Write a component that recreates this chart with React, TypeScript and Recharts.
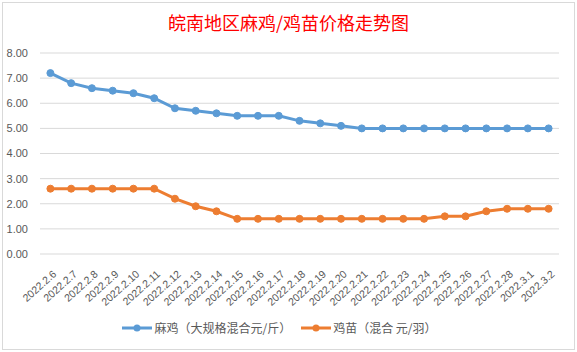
import React from "react";
import { LineChart, Line, XAxis, YAxis, CartesianGrid, Legend } from "recharts";

const categories = [
  "2022.2.6", "2022.2.7", "2022.2.8", "2022.2.9", "2022.2.10", "2022.2.11", "2022.2.12",
  "2022.2.13", "2022.2.14", "2022.2.15", "2022.2.16", "2022.2.17", "2022.2.18", "2022.2.19",
  "2022.2.20", "2022.2.21", "2022.2.22", "2022.2.23", "2022.2.24", "2022.2.25", "2022.2.26",
  "2022.2.27", "2022.2.28", "2022.3.1", "2022.3.2",
];
const majiValues = [
  7.2, 6.8, 6.6, 6.5, 6.4, 6.2, 5.8, 5.7, 5.6, 5.5, 5.5, 5.5, 5.3, 5.2,
  5.1, 5.0, 5.0, 5.0, 5.0, 5.0, 5.0, 5.0, 5.0, 5.0, 5.0,
];
const jimiaoValues = [
  2.6, 2.6, 2.6, 2.6, 2.6, 2.6, 2.2, 1.9, 1.7, 1.4, 1.4, 1.4, 1.4, 1.4,
  1.4, 1.4, 1.4, 1.4, 1.4, 1.5, 1.5, 1.7, 1.8, 1.8, 1.8,
];
const yTicks = [0, 1, 2, 3, 4, 5, 6, 7, 8];
const titleText = "皖南地区麻鸡/鸡苗价格走势图";
const seriesNames = ["麻鸡（大规格混合元/斤）", "鸡苗（混合 元/羽）"];
const seriesColors = ["#5B9BD5", "#ED7D31"];

const data = categories.map((c, i) => ({
  date: c,
  maji: majiValues[i],
  jimiao: jimiaoValues[i],
}));

const TEXT_COLOR = "#595959";
const FONT = "'Liberation Sans', Arial, sans-serif";
const CJK = "'Noto Sans CJK SC', 'Noto Sans', sans-serif";

const XTick = (props: any) => {
  const { x, y, payload } = props;
  return (
    <g transform={`translate(${x + 4},${y + 10})`}>
      <text
        x={0}
        y={0}
        transform="rotate(-42)"
        textAnchor="end"
        dominantBaseline="central"
        fill={TEXT_COLOR}
        fontSize={10.5}
        fontFamily={FONT}
      >
        {payload.value}
      </text>
    </g>
  );
};

const LegendContent = () => (
  <div
    style={{
      display: "flex",
      justifyContent: "center",
      alignItems: "center",
      fontFamily: CJK,
      fontSize: 12,
      color: TEXT_COLOR,
      paddingTop: 11,
    }}
  >
    {seriesNames.map((n, i) => (
      <div key={n} style={{ display: "flex", alignItems: "center", marginRight: i === 0 ? 10 : 0 }}>
        <svg width={30} height={10}>
          <line x1={0} y1={5} x2={30} y2={5} stroke={seriesColors[i]} strokeWidth={3} />
          <circle cx={15} cy={5} r={3.5} fill={seriesColors[i]} />
        </svg>
        <span style={{ marginLeft: 2 }}>{n}</span>
      </div>
    ))}
  </div>
);

export default function App() {
  return (
    <div style={{ position: "absolute", left: 0, top: 0, width: 577, height: 352, background: "#fff" }}>
      <div
        style={{
          position: "absolute",
          left: 2,
          top: 2,
          width: 571,
          height: 346,
          border: "1px solid #d9d9d9",
          pointerEvents: "none",
        }}
      />
      <div
        style={{
          position: "absolute",
          left: 0,
          top: 8,
          width: 577,
          textAlign: "center",
          color: "#FF0000",
          fontFamily: CJK,
          fontSize: 18,
          lineHeight: "28px",
        }}
      >
        {titleText}
      </div>
      <LineChart
        width={577}
        height={352}
        data={data}
        margin={{ top: 53, right: 18, left: 0, bottom: 8 }}
      >
        <CartesianGrid vertical={false} stroke="#d9d9d9" strokeWidth={1} />
        <XAxis
          dataKey="date"
          interval={0}
          axisLine={false}
          tickLine={false}
          height={54}
          padding={{ left: 10.4, right: 10.4 }}
          tick={<XTick />}
        />
        <YAxis
          width={40}
          domain={[0, 8]}
          ticks={yTicks}
          axisLine={false}
          tickLine={false}
          tickFormatter={(v: number) => v.toFixed(2)}
          tick={{ fill: TEXT_COLOR, fontSize: 11, fontFamily: FONT }}
          tickMargin={6}
        />
        <Legend verticalAlign="bottom" height={36} content={<LegendContent />} />
        <Line
          type="linear"
          dataKey="maji"
          name={seriesNames[0]}
          stroke={seriesColors[0]}
          strokeWidth={3}
          dot={{ r: 3.5, fill: seriesColors[0], stroke: seriesColors[0], strokeWidth: 1 }}
          isAnimationActive={false}
        />
        <Line
          type="linear"
          dataKey="jimiao"
          name={seriesNames[1]}
          stroke={seriesColors[1]}
          strokeWidth={3}
          dot={{ r: 3.5, fill: seriesColors[1], stroke: seriesColors[1], strokeWidth: 1 }}
          isAnimationActive={false}
        />
      </LineChart>
    </div>
  );
}
